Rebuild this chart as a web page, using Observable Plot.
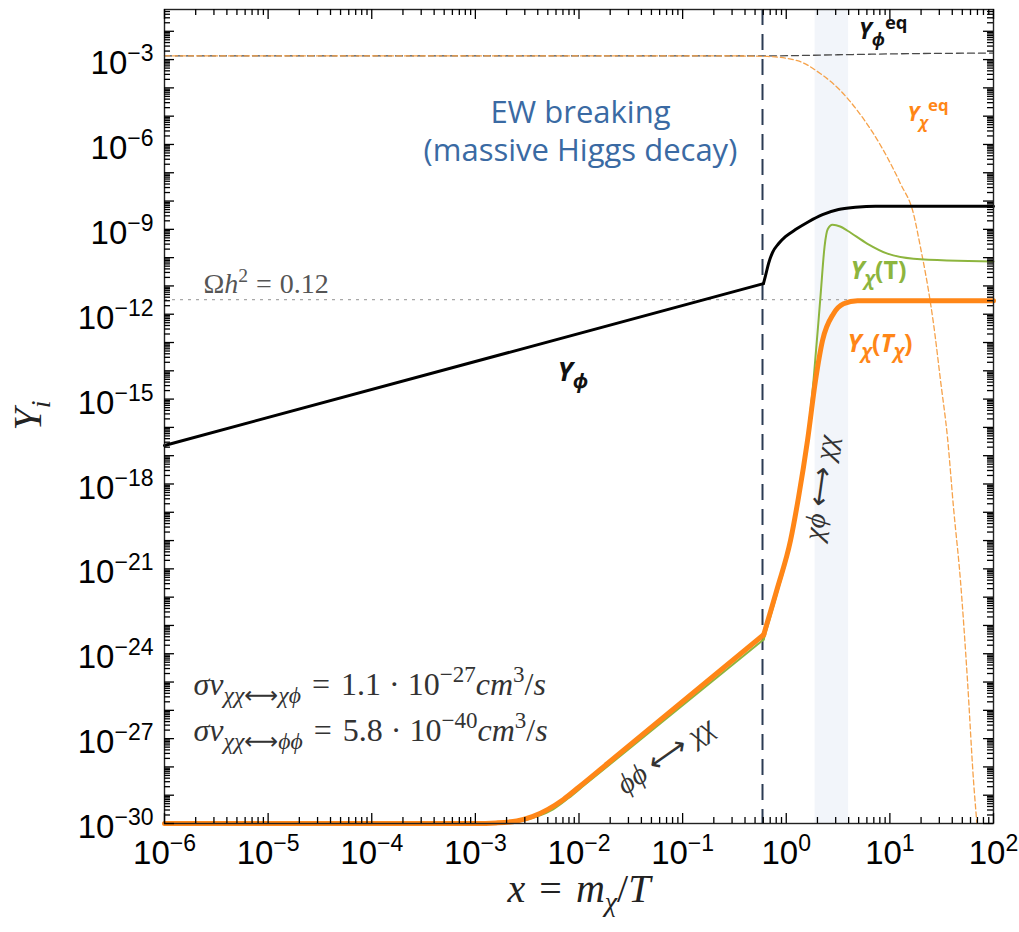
<!DOCTYPE html>
<html>
<head>
<meta charset="utf-8">
<script src="https://cdn.jsdelivr.net/npm/d3@7"></script>
<script src="https://cdn.jsdelivr.net/npm/@observablehq/plot@0.6"></script>
<style>
  html, body { margin: 0; padding: 0; background: #fff; }
  #chart { position: relative; width: 1019px; height: 932px; }
  #chart svg { display: block; }
  #chart svg.overlay { position: absolute; left: 0; top: 0; pointer-events: none; }
</style>
</head>
<body>
<div id="chart"></div>
<script>
// ---------- data (log10 units) ----------
// Y_phi (black, solid)
const phiA_lx = [-6, -0.22];
const phiA_ly = [-16.64, -10.92];
const phiB_lx = [-0.22, -0.200, -0.171, -0.133, -0.075, -0.008, 0.089, 0.215, 0.350, 0.504, 0.668, 0.861, 2];
const phiB_ly = [-10.92, -10.64, -10.21, -9.82, -9.51, -9.26, -9.01, -8.73, -8.48, -8.30, -8.22, -8.18, -8.18];

// Y_chi(T_chi) (orange, thick)
const orA_lx = [-6, -3.0, -2.8, -2.6, -2.45, -2.3, -2.15, -2.0, -1.725, -0.218];
const orA_ly = [-30, -30, -29.98, -29.91, -29.76, -29.5, -29.15, -28.71, -27.88, -23.33];
const orB_lx = [-0.218, -0.084, 0.041, 0.118, 0.205, 0.282, 0.350, 0.456, 0.553, 0.688, 2];
const orB_ly = [-23.33, -21.66, -20.0, -18.48, -16.47, -14.35, -12.93, -11.98, -11.63, -11.52, -11.52];

// Y_chi(T) (green, thin)
const grA_lx = [-6, -2.95, -2.75, -2.55, -2.4, -2.25, -2.1, -1.95, -0.218];
const grA_ly = [-30, -30, -29.97, -29.9, -29.75, -29.5, -29.1, -28.65, -23.5];
const grB_lx = [-0.218, -0.084, 0.041, 0.118, 0.197, 0.263, 0.331, 0.370, 0.400, 0.446, 0.52, 0.591, 0.784, 0.977, 1.228, 2];
const grB_ly = [-23.5, -21.8, -20.1, -18.6, -16.64, -14.35, -11.34, -9.6, -9.0, -8.84, -8.9, -9.05, -9.51, -9.86, -10.04, -10.14];

// Y_chi^eq (orange, dashed)
const eqChi_lx = [-6, -0.6, -0.181, 0.108, 0.331, 0.524, 0.688, 0.842, 0.977, 1.103, 1.228, 1.296, 1.373, 1.421, 1.489, 1.556, 1.614, 1.681, 1.749, 1.807, 1.84];
const eqChi_ly = [-2.87, -2.87, -2.89, -3.04, -3.50, -4.10, -4.81, -5.62, -6.47, -7.39, -8.45, -9.65, -11.17, -12.33, -14.35, -16.36, -18.83, -21.41, -24.95, -28.48, -30];

// Y_phi^eq (dark, dashed)
const eqPhi_lx = [-6, -0.2, 0.5, 1.2, 2];
const eqPhi_ly = [-2.87, -2.87, -2.83, -2.79, -2.77];

// reference values
const omegaLine = [3.3e-12];        // Omega h^2 = 0.12
const ewBreaking = [0.59];          // x of EW breaking
const band = [{x1: 1.9, x2: 4.0}];  // shaded x-range

// axis ticks
const xDecades = [-6, -5, -4, -3, -2, -1, 0, 1, 2];
const yLabelExps = [-30, -27, -24, -21, -18, -15, -12, -9, -6, -3];
const X_MIN = 1e-6, X_MAX = 1e2, Y_MIN = 1e-30, Y_TOP = 10 ** -1.23;

// ---------- helpers ----------
const pts = (lx, ly, seg) => lx.map((v, i) => ({x: 10 ** v, y: 10 ** ly[i], seg}));
const phiData = [...pts(phiA_lx, phiA_ly, "a"), ...pts(phiB_lx, phiB_ly, "b")];
const orData = [...pts(orA_lx, orA_ly, "a"), ...pts(orB_lx, orB_ly, "b")];
const grData = [...pts(grA_lx, grA_ly, "a"), ...pts(grB_lx, grB_ly, "b")];
const eqChiData = pts(eqChi_lx, eqChi_ly, "a");
const eqPhiData = pts(eqPhi_lx, eqPhi_ly, "a");

const xMajor = xDecades.map(e => 10 ** e);
const xMinor = [];
for (let e = -6; e < 2; e++) for (let m = 2; m <= 9; m++) xMinor.push(m * 10 ** e);
const yMajor = [];
const yMinor = [];
for (let e = -30; e <= -2; e++) {
  yMajor.push(10 ** e);
  for (let m = 2; m <= 9; m++) if (m * 10 ** e <= Y_TOP) yMinor.push(m * 10 ** e);
}
const yLabeled = yLabelExps.map(e => 10 ** e);

const W = 1019, H = 932, mL = 164, mR = 26, mT = 9, mB = 109;
const fW = W - mL - mR, fH = H - mT - mB;
// tick lengths (pixels) expressed as multiplicative factors on the log scales
const yPerPx = Math.log10(Y_TOP / Y_MIN) / fH, xPerPx = Math.log10(X_MAX / X_MIN) / fW;
const fy = px => 10 ** (px * yPerPx), fx = px => 10 ** (px * xPerPx);

const ORANGE = "#ff8617", GREEN = "#8db53e", SERIF = "Liberation Serif, DejaVu Serif, serif";
const SANS = "Open Sans, Noto Sans, sans-serif";
const MINUS = "\u2212";
const ARROW = `<tspan font-style="normal" font-family="DejaVu Sans" font-weight="normal">⟷</tspan>`;

const rich = new Map();
xDecades.forEach(e => rich.set(`10^${e}`, `10<tspan dy="-13" font-size="23">${String(e).replace("-", MINUS)}</tspan>`));
yLabelExps.forEach(e => rich.set(`10^{${e}}`, `<tspan dy="4">10</tspan><tspan dy="-13" font-size="23">${String(e).replace("-", MINUS)}</tspan>`));
rich.set("x = m_χ/T", `<tspan font-style="italic">x</tspan><tspan dx="14">=</tspan><tspan dx="14" font-style="italic">m</tspan><tspan font-style="italic" font-size="0.7em" dy="9">χ</tspan><tspan dy="-9">/</tspan><tspan font-style="italic">T</tspan>`);
rich.set("Y_i", `<tspan font-style="italic">Y</tspan><tspan font-style="italic" font-size="0.7em" dy="9">i</tspan>`);
rich.set("Ωh^2 = 0.12", `Ω<tspan font-style="italic">h</tspan><tspan font-size="0.7em" dy="-11">2</tspan><tspan dy="11" dx="8">=</tspan><tspan dx="8">0.12</tspan>`);
const sv = (sub, mant, ex) => `<tspan font-style="italic">σv</tspan><tspan font-style="italic" font-size="0.74em" dy="8">χχ${ARROW}${sub}</tspan><tspan dy="-8" dx="11">=</tspan><tspan dx="11">${mant}</tspan><tspan dx="8">·</tspan><tspan dx="8">10</tspan><tspan font-size="0.72em" dy="-13">${MINUS}${ex}</tspan><tspan dy="13" font-style="italic">cm</tspan><tspan font-size="0.72em" dy="-13">3</tspan><tspan dy="13">/</tspan><tspan font-style="italic">s</tspan>`;
rich.set("σv_χχ↔χϕ = 1.1·10^-27 cm^3/s", sv("χϕ", "1.1", "27"));
rich.set("σv_χχ↔ϕϕ = 5.8·10^-40 cm^3/s", sv("ϕϕ", "5.8", "40"));
rich.set("ϕϕ ↔ χχ", `<tspan font-style="italic">ϕϕ</tspan> ${ARROW} <tspan font-style="italic">χχ</tspan>`);
rich.set("χϕ ↔ χχ", `<tspan font-style="italic">χϕ</tspan> ${ARROW} <tspan font-style="italic">χχ</tspan>`);
rich.set("Y_ϕ^eq", `<tspan font-style="italic">Y</tspan><tspan font-style="italic" font-size="0.75em" dy="7">ϕ</tspan><tspan font-size="0.8em" dy="-17">eq</tspan>`);
rich.set("Y_χ^eq", `<tspan font-style="italic">Y</tspan><tspan font-style="italic" font-size="0.75em" dy="7">χ</tspan><tspan font-size="0.8em" dy="-17">eq</tspan>`);
rich.set("Y_χ(T)", `<tspan font-style="italic">Y</tspan><tspan font-style="italic" font-size="0.75em" dy="6">χ</tspan><tspan dy="-6">(T)</tspan>`);
rich.set("Y_χ(T_χ)", `<tspan font-style="italic">Y</tspan><tspan font-style="italic" font-size="0.75em" dy="6">χ</tspan><tspan dy="-6">(</tspan><tspan font-style="italic">T</tspan><tspan font-style="italic" font-size="0.75em" dy="6">χ</tspan><tspan dy="-6">)</tspan>`);
rich.set("Y_ϕ", `<tspan font-style="italic">Y</tspan><tspan font-style="italic" font-size="0.75em" dy="7">ϕ</tspan>`);

const one = [0];
const at = (lx, ly) => ({x: () => 10 ** lx, y: () => 10 ** ly});
const layout = {
  width: W, height: H,
  marginLeft: mL, marginRight: mR, marginTop: mT, marginBottom: mB,
  x: {type: "log", domain: [X_MIN, X_MAX], axis: null},
  y: {type: "log", domain: [Y_MIN, Y_TOP], axis: null}
};

// ---------- main chart ----------
const svg = Plot.plot({
  ...layout,
  style: {fontFamily: "Liberation Sans, Arial, sans-serif", color: "black"},
  marks: [
    Plot.rect(band, {x1: "x1", x2: "x2", y1: () => Y_MIN, y2: () => Y_TOP, fill: "#f2f5fa"}),
    Plot.ruleY(omegaLine, {stroke: "#a8a8a8", strokeWidth: 1.3, strokeDasharray: "3,5"}),
    Plot.line(eqPhiData, {x: "x", y: "y", stroke: "#4a4a4a", strokeWidth: 1.3, strokeDasharray: "7,4", curve: "monotone-x"}),
    Plot.line(eqChiData, {x: "x", y: "y", stroke: "#f6a24a", strokeWidth: 1.3, strokeDasharray: "5,3", curve: "monotone-x"}),
    Plot.ruleX(ewBreaking, {stroke: "#2b3b53", strokeWidth: 2, strokeDasharray: "16,9"}),
    Plot.line(grData, {x: "x", y: "y", z: "seg", stroke: GREEN, strokeWidth: 2, curve: "monotone-x", strokeLinecap: "round"}),
    Plot.line(orData, {x: "x", y: "y", z: "seg", stroke: ORANGE, strokeWidth: 5, curve: "monotone-x", strokeLinecap: "round"}),
    Plot.line(phiData, {x: "x", y: "y", z: "seg", stroke: "#000", strokeWidth: 3, curve: "monotone-x", strokeLinecap: "round"}),
    Plot.axisX({ticks: xMajor, anchor: "bottom", tickSize: 0, tickPadding: 17, fontSize: 33,
      tickFormat: d => `10^${Math.round(Math.log10(d))}`, label: null}),
    Plot.axisY({ticks: yLabeled, anchor: "left", tickSize: 0, tickPadding: 11, fontSize: 33,
      tickFormat: d => `10^{${Math.round(Math.log10(d))}}`, label: null}),
    // axis titles
    Plot.text(one, {frameAnchor: "bottom", dy: 78, text: () => "x = m_χ/T", fontSize: 40, fontFamily: SERIF, fill: "#222"}),
    Plot.text(one, {frameAnchor: "left", dx: -136, dy: 14, rotate: -90, text: () => "Y_i", fontSize: 40, fontFamily: SERIF, fill: "#222"}),
    // annotations
    Plot.text(one, {...at(-1.986, -5.48), text: () => "EW breaking\n(massive Higgs decay)", fontSize: 31, lineHeight: 1.23, fontFamily: SANS, fill: "#3a6aa3"}),
    Plot.text(one, {...at(-5.624, -10.92), text: () => "Ωh^2 = 0.12", textAnchor: "start", fontSize: 28, fontFamily: SERIF, fill: "#555"}),
    Plot.text(one, {...at(-5.72, -25.09), text: () => "σv_χχ↔χϕ = 1.1·10^-27 cm^3/s", textAnchor: "start", fontSize: 32, fontFamily: SERIF, fill: "#333"}),
    Plot.text(one, {...at(-5.72, -26.71), text: () => "σv_χχ↔ϕϕ = 5.8·10^-40 cm^3/s", textAnchor: "start", fontSize: 32, fontFamily: SERIF, fill: "#333"}),
    Plot.text(one, {...at(-1.165, -27.6), text: () => "ϕϕ ↔ χχ", rotate: -35, fontSize: 29, fontFamily: SERIF, fill: "#333"}),
    Plot.text(one, {...at(0.331, -18.13), text: () => "χϕ ↔ χχ", rotate: -82, fontSize: 28, fontFamily: SERIF, fill: "#333"}),
    Plot.text(one, {...at(0.70, -2.0), text: () => "Y_ϕ^eq", textAnchor: "start", fontSize: 23, fontWeight: "bold", fontFamily: SANS, fill: "#111"}),
    Plot.text(one, {...at(1.17, -4.95), text: () => "Y_χ^eq", textAnchor: "start", fontSize: 21, fontWeight: "bold", fontFamily: SANS, fill: ORANGE}),
    Plot.text(one, {...at(0.62, -10.49), text: () => "Y_χ(T)", textAnchor: "start", fontSize: 25, fontWeight: "bold", fontFamily: SANS, fill: GREEN}),
    Plot.text(one, {...at(0.591, -13.07), text: () => "Y_χ(T_χ)", textAnchor: "start", fontSize: 25, fontWeight: "bold", fontFamily: SANS, fill: ORANGE}),
    Plot.text(one, {...at(-2.207, -14.06), text: () => "Y_ϕ", textAnchor: "start", fontSize: 27, fontWeight: "bold", fontFamily: SANS, fill: "#111"}),
    Plot.frame({stroke: "#222", strokeWidth: 1.4})
  ]
});

d3.select(svg).selectAll("text").each(function () {
  const t = this.textContent;
  if (rich.has(t)) this.innerHTML = rich.get(t);
});

// ---------- tick overlay: same scales, inward ticks on all four sides ----------
const ticks = Plot.plot({
  ...layout,
  marks: [
    Plot.ruleX(xMajor, {x: d => d, y1: Y_MIN, y2: Y_MIN * fy(10), stroke: "#000", strokeWidth: 1.3}),
    Plot.ruleX(xMinor, {x: d => d, y1: Y_MIN, y2: Y_MIN * fy(6), stroke: "#000", strokeWidth: 1.3}),
    Plot.ruleX(xMajor, {x: d => d, y1: Y_TOP, y2: Y_TOP / fy(10), stroke: "#000", strokeWidth: 1.3}),
    Plot.ruleX(xMinor, {x: d => d, y1: Y_TOP, y2: Y_TOP / fy(6), stroke: "#000", strokeWidth: 1.3}),
    Plot.ruleY(yMajor, {y: d => d, x1: X_MIN, x2: X_MIN * fx(10), stroke: "#000", strokeWidth: 1.3}),
    Plot.ruleY(yMinor, {y: d => d, x1: X_MIN, x2: X_MIN * fx(6), stroke: "#000", strokeWidth: 1.3}),
    Plot.ruleY(yMajor, {y: d => d, x1: X_MAX, x2: X_MAX / fx(10), stroke: "#000", strokeWidth: 1.3}),
    Plot.ruleY(yMinor, {y: d => d, x1: X_MAX, x2: X_MAX / fx(6), stroke: "#000", strokeWidth: 1.3})
  ]
});
ticks.classList.add("overlay");
ticks.style.background = "transparent";

const chart = document.getElementById("chart");
chart.appendChild(svg);
chart.appendChild(ticks);
</script>
</body>
</html>
